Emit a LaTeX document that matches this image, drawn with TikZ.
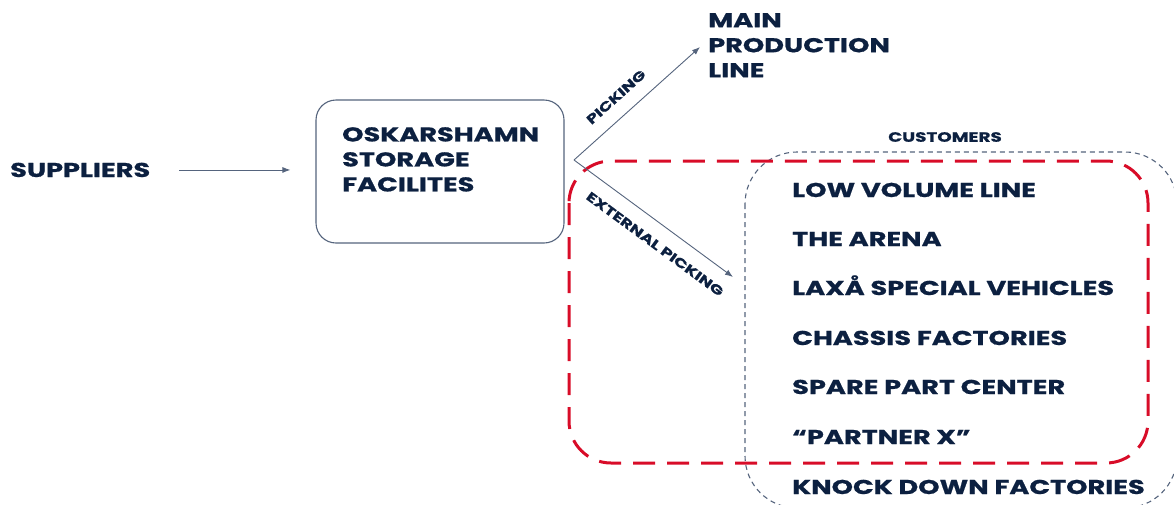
\documentclass[tikz,border=0pt]{standalone}
\usepackage{fontspec}
\setmainfont{Poppins}[FakeStretch=1.36, BoldFeatures={FakeBold=0.8}]
\usetikzlibrary{arrows.meta}
\definecolor{navy}{RGB}{12,32,64}
\definecolor{edge}{RGB}{85,100,125}
\definecolor{scred}{RGB}{216,12,40}

\begin{document}
\begin{tikzpicture}[x=1pt,y=-1pt,
  big/.style={font=\bfseries\fontsize{20}{25}\selectfont, text=navy, inner sep=0pt},
  lbl/.style={big, anchor=base west},
  blk/.style={big, anchor=north west, align=left},
  tag/.style={font=\bfseries\fontsize{13}{15}\selectfont, text=navy, inner sep=0pt},
  flow/.style={draw=edge, line width=0.9pt, -{Latex[length=8pt,width=6pt]}},
  storebox/.style={draw=edge, line width=1.1pt, rounded corners=20pt},
  groupbox/.style={draw=edge, line width=1.1pt, dash pattern=on 5pt off 4pt, rounded corners=52pt},
  scopebox/.style={draw=scred, line width=3pt, dash pattern=on 22pt off 12pt, rounded corners=42pt}
]
\useasboundingbox (0,0) rectangle (1174,504);
\clip (0,0) rectangle (1174,504);

% customer group and the externally picked scope
\draw[groupbox] (745,152) rectangle (1177,508);
\draw[scopebox] (569,161) rectangle (1148,463);

% suppliers and storage
\node[lbl] (sup) at (10,177) {SUPPLIERS};
\node[storebox, minimum width=248pt, minimum height=143pt] (store) at (440,171.5) {};
\node[blk] (storetxt) at (342,127) {OSKARSHAMN\\STORAGE\\FACILITES};
\draw[flow, shorten >=25pt] ([xshift=29pt]sup.east) -- (sup.east -| store.west);

% main line
\node[blk] (main) at (708,13) {MAIN\\PRODUCTION\\LINE};
\coordinate (fork) at (574,160);
\coordinate (mainin) at (700,47);
\coordinate (extin) at (733,277);
\draw[flow] (fork) -- (mainin);
\draw[flow] (fork) -- (extin);
\node[tag, rotate=41.9] (pick) at (616,97) {PICKING};
\node[tag, rotate=-36.3] (extpick) at (655,244) {EXTERNAL PICKING};

% customers
\node[tag, font=\bfseries\fontsize{13.5}{15}\selectfont] (cust) at (945,137) {CUSTOMERS};
\node[lbl] (c1) at (792,197) {LOW VOLUME LINE};
\node[lbl] (c2) at (792,246) {THE ARENA};
\node[lbl] (c3) at (792,295) {LAXÅ SPECIAL VEHICLES};
\node[lbl] (c4) at (792,345) {CHASSIS FACTORIES};
\node[lbl] (c5) at (792,394) {SPARE PART CENTER};
\node[lbl] (c6) at (792,444) {“PARTNER X”};
\node[lbl] (c7) at (792,494) {KNOCK DOWN FACTORIES};
\end{tikzpicture}
\end{document}
